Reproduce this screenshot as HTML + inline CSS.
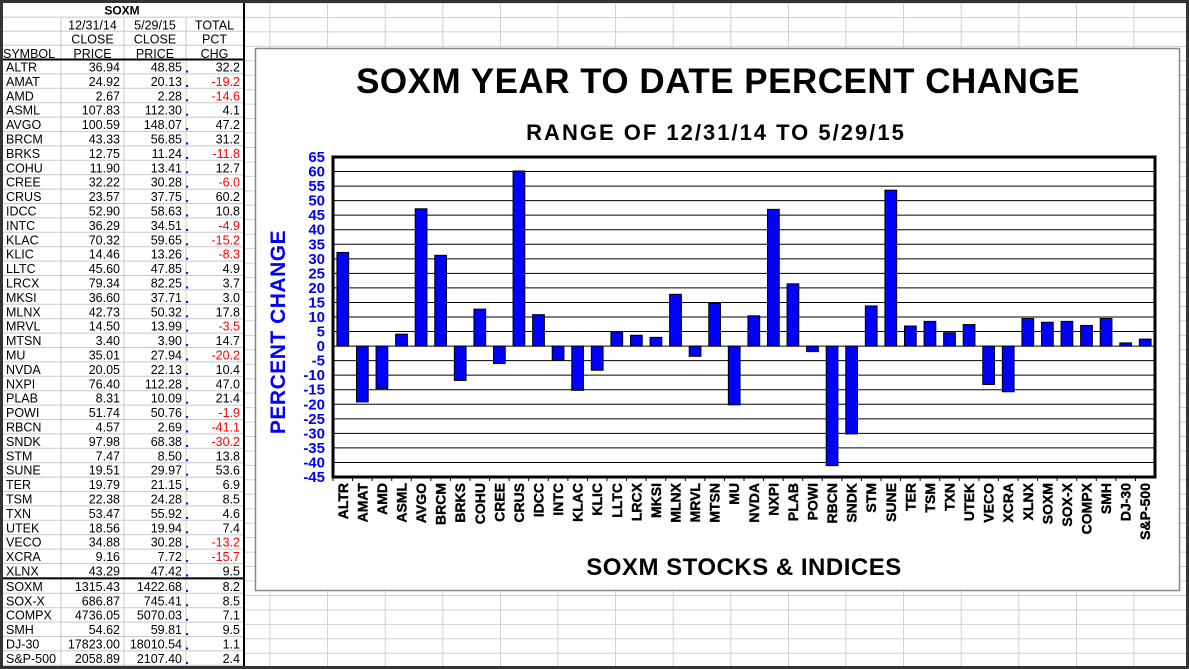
<!DOCTYPE html>
<html><head><meta charset="utf-8"><style>
html,body{margin:0;padding:0;background:#fff;}
svg{display:block;font-family:"Liberation Sans",Arial,sans-serif;}
</style></head><body>
<svg id="s" width="1189" height="669" viewBox="0 0 1189 669">
<rect x="0" y="0" width="1189" height="669" fill="#fff"/>
<g id="bggrid"></g>
<g id="table"></g>
<rect x="255.5" y="48.5" width="924" height="542" fill="#fff" stroke="#888" stroke-width="1.5"/>
<text x="718" y="93" font-size="35" font-weight="bold" letter-spacing="0.5" text-anchor="middle">SOXM YEAR TO DATE PERCENT CHANGE</text>
<text x="716" y="140" font-size="22" font-weight="bold" letter-spacing="2" text-anchor="middle">RANGE OF 12/31/14 TO 5/29/15</text>
<text x="744" y="575" font-size="24" font-weight="bold" letter-spacing="0.5" text-anchor="middle">SOXM STOCKS &amp; INDICES</text>
<text transform="translate(285,332) rotate(-90)" font-size="21" font-weight="bold" fill="#0000ff" letter-spacing="0.5" text-anchor="middle">PERCENT CHANGE</text>
<g id="chart"></g>
<rect x="1.5" y="1.5" width="1186" height="666" fill="none" stroke="#333" stroke-width="3"/>
</svg>
<script>
const categories=["ALTR","AMAT","AMD","ASML","AVGO","BRCM","BRKS","COHU","CREE","CRUS","IDCC","INTC","KLAC","KLIC","LLTC","LRCX","MKSI","MLNX","MRVL","MTSN","MU","NVDA","NXPI","PLAB","POWI","RBCN","SNDK","STM","SUNE","TER","TSM","TXN","UTEK","VECO","XCRA","XLNX","SOXM","SOX-X","COMPX","SMH","DJ-30","S&P-500"];
const closeStart=["36.94","24.92","2.67","107.83","100.59","43.33","12.75","11.90","32.22","23.57","52.90","36.29","70.32","14.46","45.60","79.34","36.60","42.73","14.50","3.40","35.01","20.05","76.40","8.31","51.74","4.57","97.98","7.47","19.51","19.79","22.38","53.47","18.56","34.88","9.16","43.29","1315.43","686.87","4736.05","54.62","17823.00","2058.89"];
const closeEnd=["48.85","20.13","2.28","112.30","148.07","56.85","11.24","13.41","30.28","37.75","58.63","34.51","59.65","13.26","47.85","82.25","37.71","50.32","13.99","3.90","27.94","22.13","112.28","10.09","50.76","2.69","68.38","8.50","29.97","21.15","24.28","55.92","19.94","30.28","7.72","47.42","1422.68","745.41","5070.03","59.81","18010.54","2107.40"];
const pctChange=[32.2,-19.2,-14.6,4.1,47.2,31.2,-11.8,12.7,-6.0,60.2,10.8,-4.9,-15.2,-8.3,4.9,3.7,3.0,17.8,-3.5,14.7,-20.2,10.4,47.0,21.4,-1.9,-41.1,-30.2,13.8,53.6,6.9,8.5,4.6,7.4,-13.2,-15.7,9.5,8.2,8.5,7.1,9.5,1.1,2.4];
const yTicks=[65,60,55,50,45,40,35,30,25,20,15,10,5,0,-5,-10,-15,-20,-25,-30,-35,-40,-45];

const NS="http://www.w3.org/2000/svg";
function mk(tag,attrs,parent,txt){const e=document.createElementNS(NS,tag);for(const k in attrs)e.setAttribute(k,attrs[k]);if(txt!==undefined)e.textContent=txt;parent.appendChild(e);return e;}

const bg=document.getElementById('bggrid');
for(let x=270;x<1189;x+=57.6){mk('line',{x1:x,y1:0,x2:x,y2:669,stroke:'#d0d0d0','stroke-width':1},bg);}
for(let y=3;y<669;y+=14.45){mk('line',{x1:245,y1:y,x2:1189,y2:y,stroke:'#d0d0d0','stroke-width':1},bg);}

const tb=document.getElementById('table');
const colX=[0,61,124,186,243];
const rowH=14.4, firstRow=59.5;
const hdr=[["","SOXM","",""],["","12/31/14","5/29/15","TOTAL"],["","CLOSE","CLOSE","PCT"],["SYMBOL","PRICE","PRICE","CHG"]];
for(let r=0;r<4;r++){const y=3+r*14.1;
  mk('line',{x1:0,y1:y+14.1,x2:243,y2:y+14.1,stroke:'#c8c8c8'},tb);
  if(r===0){mk('text',{x:122,y:y+11.5,'font-size':12,'font-weight':'bold','text-anchor':'middle'},tb,'SOXM');continue;}
  for(let c=0;c<4;c++){if(!hdr[r][c])continue;
    if(c===0) mk('text',{x:3,y:y+12.5,'font-size':12.5},tb,hdr[r][c]);
    else mk('text',{x:(colX[c]+colX[c+1])/2,y:y+12.5,'font-size':12.5,'text-anchor':'middle'},tb,hdr[r][c]);}
}
for(let c=1;c<4;c++){mk('line',{x1:colX[c],y1:17,x2:colX[c],y2:669,stroke:'#c8c8c8'},tb);}
for(let i=0;i<categories.length;i++){
  const y=firstRow+i*rowH+(i>=36?1:0);
  mk('line',{x1:0,y1:y+rowH,x2:243,y2:y+rowH,stroke:'#c8c8c8'},tb);
  const t0=mk('text',{x:6,y:y+12,'font-size':12.5},tb,categories[i]);
  
  mk('text',{x:120,y:y+12,'font-size':12.5,'text-anchor':'end'},tb,closeStart[i]);
  mk('text',{x:182,y:y+12,'font-size':12.5,'text-anchor':'end'},tb,closeEnd[i]);
  const p=pctChange[i];
  mk('text',{x:240,y:y+12,'font-size':12.5,'text-anchor':'end',fill:p<0?'#ff0000':'#000'},tb,p.toFixed(1));
  mk('rect',{x:186,y:y+11,width:2,height:2,fill:'#0000ff'},tb);
}
mk('line',{x1:0,y1:firstRow,x2:244,y2:firstRow,stroke:'#000','stroke-width':2},tb);
mk('line',{x1:0,y1:firstRow+36*rowH+0.5,x2:244,y2:firstRow+36*rowH+0.5,stroke:'#000','stroke-width':2},tb);
mk('line',{x1:244,y1:0,x2:244,y2:669,stroke:'#000','stroke-width':2},tb);

const ch=document.getElementById('chart');
const L=333,R=1155,T=157,B=477,yMax=65,yMin=-45;
const yS=v=>T+(yMax-v)/(yMax-yMin)*(B-T);
const band=(R-L)/categories.length;
const xS=i=>L+band*i;
yTicks.forEach(v=>{
  if(v!==yMax&&v!==yMin){const g=mk('line',{x1:L,y1:yS(v),x2:R,y2:yS(v),stroke:'#000','stroke-width':1},ch);}
  const t=mk('text',{x:L-8,y:yS(v)+5,'font-size':15,'font-weight':'bold',fill:'#0000ff','text-anchor':'end'},ch,String(v));
  
});
pctChange.forEach((v,i)=>{
  const x=xS(i)+band*0.2, w=band*0.6;
  const y0=yS(0), y1=yS(v);
  const b=mk('rect',{x:x,y:Math.min(y0,y1),width:w,height:Math.abs(y1-y0),fill:'#0000ff',stroke:'#000','stroke-width':1},ch);
  
  
  mk('line',{x1:xS(i),y1:B,x2:xS(i),y2:B+4,stroke:'#000'},ch);
  const cx=xS(i)+band/2+5;
  const t=mk('text',{transform:`translate(${cx},${B+6}) rotate(-90)`,'font-size':14,'font-weight':'bold','text-anchor':'end',stroke:'#000','stroke-width':0.4},ch,categories[i]);
  
});
mk('rect',{x:L,y:T,width:R-L,height:B-T,fill:'none',stroke:'#000','stroke-width':3},ch);
</script>
</body></html>
